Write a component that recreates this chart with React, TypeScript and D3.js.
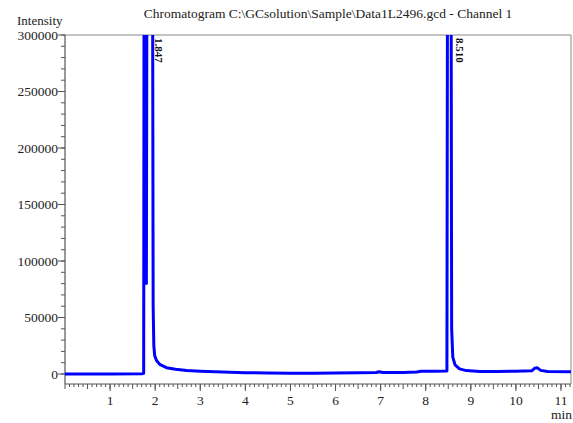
import React from "react";
import * as d3 from "d3";

const title = "Chromatogram C:\\GCsolution\\Sample\\Data1L2496.gcd - Channel 1";
const yTickValues = [0, 50000, 100000, 150000, 200000, 250000, 300000];
const xTickValues = [1, 2, 3, 4, 5, 6, 7, 8, 9, 10, 11];
const peakLabels = ["1.847", "8.510"];
const peakTimes = [1.847, 8.51];

const times = [
  0, 1.0, 1.72, 1.745, 1.755, 1.79, 1.805, 1.82, 1.94, 1.955, 1.97, 1.99, 2.03, 2.1, 2.25, 2.45, 2.7, 3.0, 3.5,
  4.0, 4.5, 5.0, 5.5, 6.0, 6.5, 6.9, 6.97, 7.05, 7.2, 7.5, 7.8, 7.9, 8.2, 8.47, 8.485, 8.56, 8.575, 8.6, 8.65,
  8.75, 8.9, 9.2, 9.6, 10.0, 10.35, 10.42, 10.47, 10.55, 10.7, 11.22,
];
const intensity = [
  0, 100, 300, 600, 420000, 420000, 80000, 420000, 420000, 60000, 25000, 16000, 12000, 8500, 5600, 4200, 3200,
  2500, 1700, 1200, 900, 700, 700, 800, 1000, 1300, 2000, 1400, 1300, 1400, 1700, 2400, 2500, 2700, 420000,
  420000, 40000, 15000, 8000, 4500, 3000, 2300, 2200, 2500, 2800, 5200, 5600, 3200, 2300, 1900,
];

const L = 65, R = 571, T = 35, B = 384;

export default function App() {
  const x = d3.scaleLinear().domain([0, 11]).range([L, 561]);
  const y = d3.scaleLinear().domain([0, 300000]).range([374, T]);
  const pts: [number, number][] = times.map((t, i) => [t, intensity[i]]);
  const line = d3
    .line<[number, number]>()
    .x((d) => x(d[0]))
    .y((d) => y(d[1]));
  const yMinor = d3.range(0, 300001, 10000);
  const xMinor = d3.range(0, 11.25, 0.1);
  const font = "Liberation Serif, Times New Roman, serif";
  const axisColor = "#555";
  return (
    <svg
      width={573}
      height={423}
      style={{ position: "absolute", left: 0, top: 0, background: "#fff" }}
      fontFamily={font}
    >
      <defs>
        <clipPath id="plot">
          <rect x={L} y={T} width={R - L} height={B - T} />
        </clipPath>
      </defs>
      <text x={328} y={18} fontSize={13.5} textAnchor="middle" fill="#222">
        {title}
      </text>
      <text x={17} y={25} fontSize={13} fill="#222">
        Intensity
      </text>
      <text x={572} y={419} fontSize={13.5} textAnchor="end" fill="#222">
        min
      </text>
      <line x1={L} x2={R} y1={T} y2={T} stroke="#888" strokeWidth={1} />
      <line x1={R} x2={R} y1={T} y2={B} stroke="#888" strokeWidth={1} />
      <line x1={L} x2={L} y1={T} y2={B} stroke={axisColor} strokeWidth={1.2} />
      <line x1={L} x2={R} y1={B} y2={B} stroke={axisColor} strokeWidth={1.2} />
      {yMinor.map((v) => (
        <line key={"ym" + v} x1={L - 4} x2={L} y1={y(v)} y2={y(v)} stroke={axisColor} />
      ))}
      {yTickValues.map((v) => (
        <g key={"yt" + v}>
          <line x1={L - 7} x2={L} y1={y(v)} y2={y(v)} stroke={axisColor} />
          <text x={L - 7} y={y(v) + 4.5} fontSize={13.5} textAnchor="end" fill="#222">
            {v}
          </text>
        </g>
      ))}
      {xMinor.map((v, i) => (
        <line
          key={"xm" + i}
          x1={x(v)}
          x2={x(v)}
          y1={B}
          y2={B + (i % 5 === 0 ? 5 : 3)}
          stroke={axisColor}
        />
      ))}
      {xTickValues.map((v) => (
        <g key={"xt" + v}>
          <line x1={x(v)} x2={x(v)} y1={B} y2={B + 7} stroke={axisColor} />
          <text x={x(v)} y={405} fontSize={13.5} textAnchor="middle" fill="#222">
            {v}
          </text>
        </g>
      ))}
      <g clipPath="url(#plot)">
        <path d={line(pts) || ""} fill="none" stroke="#0000ff" strokeWidth={3} strokeLinejoin="round" />
      </g>
      {peakLabels.map((lab, i) => (
        <text
          key={lab}
          transform={`translate(${x(peakTimes[i]) + 7},${T + 3}) rotate(90)`}
          fontSize={11}
          fontWeight="bold"
          fill="#111"
        >
          {lab}
        </text>
      ))}
    </svg>
  );
}
